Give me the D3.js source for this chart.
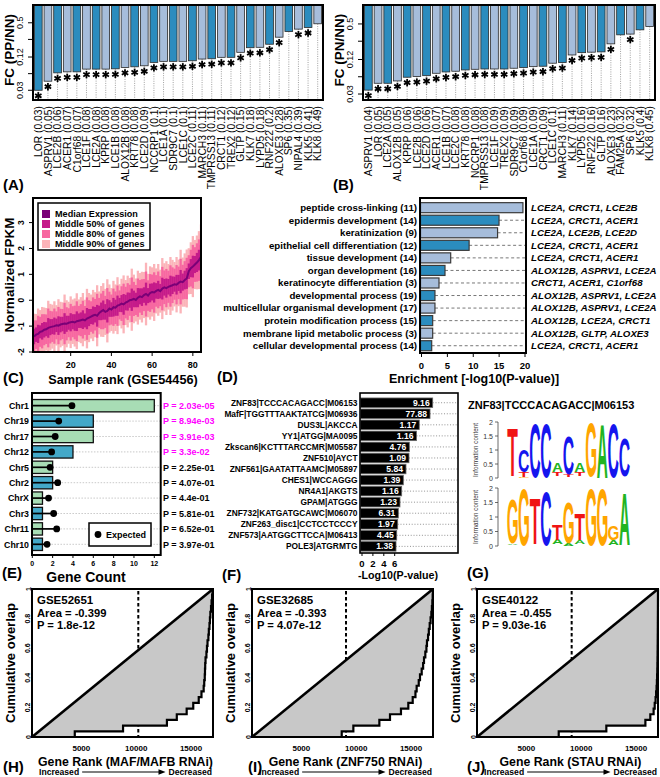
<!DOCTYPE html>
<html><head><meta charset="utf-8">
<script src="https://cdn.jsdelivr.net/npm/d3@7"></script>
<style>body{margin:0;background:#fff}svg{display:block}text{font-family:"Liberation Sans",Arial,Helvetica,sans-serif}</style>
</head><body><svg id="c" width="660" height="777"></svg>
<script>
// ---------------- DATA ----------------
const genesA=["LOR","ASPRV1","LCE2B","ACER1","C1orf68","LCE1F","LCE2A","KPRP","LCE1B","ALOX12B","KRT78","LCE2D","NCCRP1","LCE1A","SDR9C7","LCE1C","LCE2C","MARCH3","TMPRSS13","CRCT1","TREX2","GLTP","KLK7","LYPD5","RNF222","ALOXE3","SP6","NIPAL4","KLK5","KLK8"];
const fcA=[0.030,0.0438,0.062,0.0647,0.0647,0.0725,0.0725,0.0725,0.0734,0.0778,0.0798,0.0833,0.096,0.1002,0.1002,0.1002,0.1027,0.1103,0.1117,0.1185,0.1185,0.146,0.177,0.180,0.2045,0.2745,0.347,0.384,0.411,0.48];
const shownA=["0.03","0.05","0.06","0.07","0.07","0.08","0.08","0.08","0.08","0.08","0.08","0.09","0.1","0.1","0.1","0.1","0.11","0.11","0.11","0.12","0.12","0.15","0.18","0.18","0.2","0.28","0.35","0.39","0.41","0.49"];
const sigA=[1,1,1,1,1,1,1,1,1,1,1,1,1,1,1,1,1,1,1,1,1,1,1,1,1,1,0,1,1,0];
const genesB=["ASPRV1","LOR","LCE2A","ALOX12B","KPRP","LCE2B","LCE2D","ACER1","LCE1B","LCE2C","KRT78","NCCRP1","TMPRSS13","LCE1F","TREX2","SDR9C7","C1orf68","LCE1A","CRCT1","LCE1C","MARCH3","KLK7","LYPD5","RNF222","GLTP","ALOXE3","FAM25A","SP6","KLK5","KLK8"];
const fcB=[0.0351,0.0462,0.0462,0.0507,0.0589,0.0604,0.0627,0.069,0.0728,0.0749,0.0789,0.081,0.082,0.082,0.082,0.0845,0.0866,0.0901,0.0916,0.1034,0.106,0.144,0.158,0.161,0.163,0.225,0.323,0.333,0.395,0.451];
const shownB=["0.04","0.05","0.05","0.05","0.06","0.06","0.06","0.07","0.07","0.08","0.08","0.08","0.08","0.09","0.09","0.09","0.09","0.09","0.09","0.1","0.11","0.14","0.16","0.16","0.16","0.23","0.32","0.32","0.4","0.45"];
const sigB=[1,1,1,1,1,1,1,1,1,1,1,1,1,1,1,1,1,1,1,1,1,1,1,1,1,1,0,1,0,0];
const fcTicks=[0.03,0.06,0.12,0.25,0.5];
const fcTickLabels=["0.03","","0.12","","0.5"];

// Panel C: per-sample expression summary (sample ranks 2..84)
const medianC=[-1.40,-1.33,-1.30,-1.22,-1.20,-1.14,-1.12,-1.07,-1.04,-1.02,
-1.00,-0.97,-0.98,-0.94,-0.92,-0.90,-0.91,-0.87,-0.85,-0.83,
-0.86,-0.81,-0.79,-0.77,-0.75,-0.78,-0.71,-0.67,-0.63,-0.59,
-0.56,-0.60,-0.49,-0.43,-0.38,-0.45,-0.41,-0.32,-0.36,-0.27,
-0.29,-0.21,-0.18,-0.13,-0.16,-0.09,-0.05,0.00,0.02,0.05,
0.01,0.10,0.15,0.12,0.20,0.24,0.18,0.28,0.32,0.30,
0.36,0.40,0.35,0.45,0.50,0.47,0.52,0.55,0.58,0.62,
0.60,0.67,0.72,0.70,0.78,0.84,1.12,1.24,1.30,1.38,
1.46,1.55,1.68];
const w50C=[.30,.28,.35,.25,.32,.30,.27,.38,.31,.29,.33,.26,.36,.30,.28,.40,.31,.27,.35,.29,.32,.38,.28,.30,.36,.27,.41,.33,.29,.35,.30,.42,.28,.34,.37,.30,.45,.32,.28,.36,.31,.39,.27,.33,.40,.30,.35,.29,.43,.32,.28,.37,.31,.34,.30,.44,.29,.36,.33,.39,.30,.35,.28,.42,.32,.37,.30,.40,.34,.29,.38,.31,.45,.33,.36,.40,.30,.35,.42,.33,.37,.40,.45];
const w80C=[.62,.55,.70,.58,.66,.60,.57,.75,.63,.59,.68,.54,.72,.61,.58,.80,.64,.56,.71,.60,.65,.77,.57,.62,.73,.56,.82,.67,.59,.70,.61,.85,.58,.69,.74,.62,.88,.65,.58,.72,.63,.78,.56,.67,.80,.61,.71,.60,.86,.66,.58,.74,.63,.69,.62,.87,.59,.73,.67,.78,.61,.71,.58,.84,.65,.74,.62,.80,.69,.60,.76,.63,.88,.67,.73,.80,.62,.71,.84,.67,.74,.80,.90];
const w90C=[.88,.80,.98,.84,.94,.86,.82,1.05,.90,.85,.96,.78,1.02,.88,.84,1.12,.91,.81,1.00,.86,.93,1.08,.82,.89,1.03,.80,1.15,.95,.85,.99,.87,1.18,.83,.98,1.04,.89,1.22,.93,.83,1.02,.90,1.10,.80,.96,1.12,.87,1.00,.86,1.20,.94,.83,1.04,.90,.98,.89,1.21,.84,1.03,.95,1.10,.87,1.00,.83,1.18,.93,1.04,.88,1.12,.98,.86,1.07,.90,1.23,.95,1.03,1.12,.89,1.00,1.18,.95,1.04,1.12,1.25];
const legendC=["Median Expression","Middle 50% of genes","Middle 80% of genes","Middle 90% of genes"];
const ticksCx=[20,40,60,80], ticksCy=[-2,-1,0,1,2,3];

// Panel D
const goTerms=["peptide cross-linking (11)","epidermis development (14)","keratinization (9)","epithelial cell differentiation (12)","tissue development (14)","organ development (16)","keratinocyte differentiation (3)","developmental process (19)","multicellular organismal development (17)","protein modification process (15)","membrane lipid metabolic process (3)","cellular developmental process (14)"];
const goEnrich=[19.6,14.98,14.7,9.2,5.64,4.54,3.38,2.6,2.6,2.16,2.16,1.97];
const goGenes=["LCE2A, CRCT1, LCE2B","LCE2A, CRCT1, ACER1","LCE2A, LCE2B, LCE2D","LCE2A, CRCT1, ACER1","LCE2A, CRCT1, ACER1","ALOX12B, ASPRV1, LCE2A","CRCT1, ACER1, C1orf68","ALOX12B, ASPRV1, LCE2A","ALOX12B, ASPRV1, LCE2A","ALOX12B, LCE2A, CRCT1","ALOX12B, GLTP, ALOXE3","LCE2A, CRCT1, ACER1"];
const ticksD=[0,5,10,15,20];

// Panel E
const chrs=["Chr1","Chr19","Chr17","Chr12","Chr5","Chr2","ChrX","Chr3","Chr11","Chr10"];
const chrCount=[12,6,6,4,2,2,1,1,1,1];
const chrExpected=[3.9,2.6,2.25,1.9,1.75,2.5,1.6,2.1,2.4,1.45];
const chrP=["2.03e-05","8.94e-03","3.91e-03","3.3e-02","2.25e-01","4.07e-01","4.4e-01","5.81e-01","6.52e-01","3.97e-01"];
const chrSig=[1,1,1,1,0,0,0,0,0,0];
const ticksE=[0,2,4,6,8,10,12];

// Panel F
const motifs=["ZNF83|TCCCACAGACC|M06153","MafF|TGGTTTAAKTATCG|M06936","DUS3L|AKCCA","YY1|ATGG|MA0095","Zkscan6|KCTTTARCCMR|M05587","ZNF510|AYCT","ZNF561|GAATATTAAMC|M05897","CHES1|WCCAGGG","NR4A1|AKGTS","GPAM|ATGGG","ZNF732|KATGATGCAWC|M06070","ZNF263_disc1|CCTCCTCCCY","ZNF573|AATGGCTTCCA|M06413","POLE3|ATGRMTG"];
const motifEnrich=[12.97,12.48,10.5,10.0,8.68,8.62,8.07,7.58,7.28,6.97,6.66,6.55,6.37,6.24];
const motifFold=["9.16","77.88","1.17","1.16","4.76","1.09","5.84","1.39","1.16","1.23","6.31","1.97","4.45","1.38"];
const ticksF=[0,2,4,6];

// Panel G: sequence logos (stacks bottom->top: [base, bits])
const logoTitle="ZNF83|TCCCACAGACC|M06153";
const logoFwd=[[["G",0.03],["C",0.03],["T",1.70]],[["G",0.05],["T",0.17],["C",0.78]],[["C",1.94]],[["C",1.94]],[["G",0.04],["C",0.04],["T",0.14],["A",0.33]],[["G",0.03],["T",0.08],["C",1.36]],[["G",0.04],["C",0.04],["T",0.12],["A",0.30]],[["T",0.03],["G",1.92]],[["A",1.88]],[["C",1.94]],[["A",0.03],["G",0.04],["C",1.34]]];
const logoRev=[[["C",0.04],["A",0.05],["G",1.56]],[["G",1.94]],[["C",0.03],["A",0.04],["T",1.55]],[["C",1.88]],[["C",0.03],["G",0.03],["A",0.16],["T",0.52]],[["A",0.10],["G",1.40]],[["C",0.03],["G",0.03],["A",0.15],["T",0.90]],[["G",1.96]],[["G",1.96]],[["C",0.03],["A",0.17],["G",0.48]],[["G",0.03],["A",1.77]]];
const logoTicks=[0,0.5,1,1.5,2];

// Panels H, I, J: ranks of the gene set in each knock-down ranking
const ranksH=[4400,8800,12800,13700,14600,15200,15700,15950,16150,16200,16250,16270,16290,16320,16400,16450,16500,16580,16620,16680,16720,16760,16820,16870,16920,16960];
const ranksI=[8680,9740,12110,13080,14080,14750,15150,15400,15510,15700,15815,15970,16100,16180,16300,16400,16450,16550,16620,16700,16780,16850,16900,16940,16970,16990];
const ranksJ=[7950,12290,15850,16300,16600,16700,16780,16830,16870,16900,16920,16935,16945,16955,16962,16968,16973,16977,16981,16984,16987,16990,16993,16995,16997,16999];
const gseIds=["GSE52651","GSE32685","GSE40122"];
const gseArea=["-0.399","-0.393","-0.455"];
const gseP=["1.8e-12","4.07e-12","9.03e-16"];
const gseXlab=["Gene Rank (MAF/MAFB RNAi)","Gene Rank (ZNF750 RNAi)","Gene Rank (STAU RNAi)"];
const gseDash=[10190,9070,9130];
const ticksRankX=[5000,10000,15000];
const ticksOverlap=[0,0.2,0.4,0.6,0.8,1];

// ---------------- DRAWING ----------------
const svg=d3.select("#c");
const DARK="#2b8cbe", LIGHT="#a6bddb", GREEN="#a8ddb5", TEAL="#43a8c8";
const NUC={A:"#22b422",C:"#1515ee",G:"#ffa500",T:"#f01414"};
function txt(x,y,s,o={}){
  const t=svg.append("text").attr("x",x).attr("y",y).text(s)
    .attr("font-size",o.size||10).attr("font-weight",o.weight||"bold")
    .attr("text-anchor",o.anchor||"start").attr("fill",o.fill||"#000");
  if(o.rot) t.attr("transform",`rotate(${o.rot},${x},${y})`);
  if(o.style) t.attr("font-style",o.style);
  return t;
}
function box(x0,y0,x1,y1,w){svg.append("rect").attr("x",x0).attr("y",y0).attr("width",x1-x0).attr("height",y1-y0).attr("fill","none").attr("stroke","#000").attr("stroke-width",w||2);}

// ---- A & B ----
function fcPanel(c){
  const g=svg.append("g");
  const x=d3.scaleBand().domain(d3.range(c.genes.length)).range([c.x0,c.x1]).paddingInner(0.2).paddingOuter(0.15);
  const y=d3.scaleLog().domain(c.dom).range([c.y1,c.y0]);
  const cx=i=>x(i)+x.bandwidth()/2;
  g.selectAll(null).data(c.vals).join("line").attr("x1",(d,i)=>cx(i)).attr("x2",(d,i)=>cx(i))
    .attr("y1",d=>y(d)).attr("y2",c.y1).attr("stroke","#888").attr("stroke-width",0.8).attr("stroke-dasharray","1,1.3");
  g.selectAll(null).data(c.vals).join("rect").attr("x",(d,i)=>x(i)).attr("width",x.bandwidth())
    .attr("y",c.y0).attr("height",d=>y(d)-c.y0).attr("fill",(d,i)=>i%2?LIGHT:DARK).attr("stroke","#2a2a2a").attr("stroke-width",0.8);
  c.vals.forEach((d,i)=>{ if(!c.sig[i]) return; const ax=cx(i), ay=y(d)+5.5;
    [90,30,150].forEach(a=>{const r=a*Math.PI/180;
      g.append("line").attr("x1",ax-3.7*Math.cos(r)).attr("y1",ay-3.7*Math.sin(r)).attr("x2",ax+3.7*Math.cos(r)).attr("y2",ay+3.7*Math.sin(r)).attr("stroke","#000").attr("stroke-width",1.8);});
  });
  c.genes.forEach((gn,i)=>txt(cx(i)+3.7,c.y1+6,`${gn} (${c.shown[i]})`,{size:10.3,weight:"normal",anchor:"end",rot:-90}));
  box(c.x0,c.y0,c.x1,c.y1,2);
  fcTicks.forEach((v,k)=>{
    g.append("line").attr("x1",c.x0-5).attr("x2",c.x0).attr("y1",y(v)).attr("y2",y(v)).attr("stroke","#000");
    if(fcTickLabels[k]) txt(c.x0-10,y(v),fcTickLabels[k],{size:9,weight:"normal",anchor:"middle",rot:-90});
  });
  txt(c.x0-19,50,c.ylab,{size:13.5,anchor:"middle",rot:-90});
}
fcPanel({genes:genesA,vals:fcA,shown:shownA,sig:sigA,x0:33,x1:323,y0:5,y1:100,dom:[0.02,1.05],ylab:"FC (PP/NN)"});
fcPanel({genes:genesB,vals:fcB,shown:shownB,sig:sigB,x0:363,x1:655,y0:5,y1:100,dom:[0.0236,1.07],ylab:"FC (PN/NN)"});
txt(3,190,"(A)",{size:15});
txt(333,190,"(B)",{size:15});

// ---- C ----
const rankC=d3.range(2,2+medianC.length);
const xC=d3.scaleLinear().domain([1.5,84]).range([33,201]);
const yC=d3.scaleLinear().domain([-2,3.95]).range([352,198]);
svg.append("defs").append("clipPath").attr("id","clipC").append("rect").attr("x",33).attr("y",198).attr("width",168).attr("height",154);
const gC=svg.append("g").attr("clip-path","url(#clipC)");
[[w90C,"#fbb4b9"],[w80C,"#f768a1"],[w50C,"#c51b8a"]].forEach(([w,col])=>{
  gC.selectAll(null).data(medianC).join("rect").attr("x",(d,i)=>xC(rankC[i])-1.15).attr("width",2.3)
    .attr("y",(d,i)=>yC(d+w[i])).attr("height",(d,i)=>yC(d-w[i])-yC(d+w[i])).attr("fill",col);
});
gC.append("path").datum(medianC).attr("d",d3.line().x((d,i)=>xC(rankC[i])).y(d=>yC(d)))
  .attr("fill","none").attr("stroke","#7a0177").attr("stroke-width",2);
box(33,198,201,352,2);
ticksCx.forEach(v=>{svg.append("line").attr("x1",xC(v)).attr("x2",xC(v)).attr("y1",352).attr("y2",356).attr("stroke","#000");
  txt(xC(v),368,String(v),{size:9,anchor:"middle"});});
ticksCy.forEach(v=>{svg.append("line").attr("x1",29).attr("x2",33).attr("y1",yC(v)).attr("y2",yC(v)).attr("stroke","#000");
  txt(24,yC(v),String(v),{size:8.5,anchor:"middle",rot:-90});});
svg.append("rect").attr("x",38).attr("y",203).attr("width",112).attr("height",47).attr("fill","#fff").attr("stroke","#000").attr("stroke-width",1.5);
["#7a0177","#c51b8a","#f768a1","#fbb4b9"].forEach((col,k)=>{
  const cy=214+k*10;
  svg.append("rect").attr("x",42).attr("y",cy-4).attr("width",8).attr("height",8).attr("fill",col);
  txt(55,cy+3.3,legendC[k],{size:9.1});
});
txt(14,275,"Normalized FPKM",{size:13.5,anchor:"middle",rot:-90});
txt(123,384,"Sample rank (GSE54456)",{size:12.7,anchor:"middle"});
txt(3,383,"(C)",{size:15});

// ---- D ----
const yD=d3.scaleBand().domain(d3.range(goTerms.length)).range([201.4,352]).paddingInner(0.2).paddingOuter(0.1);
const xD=d3.scaleLinear().domain([0,20]).range([421.5,525]);
goEnrich.forEach((v,i)=>{
  const cy=yD(i)+yD.bandwidth()/2;
  if(xD(v)<522) svg.append("line").attr("x1",xD(v)).attr("x2",525).attr("y1",cy).attr("y2",cy).attr("stroke","#777").attr("stroke-width",1).attr("stroke-dasharray","3,2.5");
  svg.append("rect").attr("x",420.5).attr("y",yD(i)).attr("width",xD(v)-420.5).attr("height",yD.bandwidth())
    .attr("fill",i%2?DARK:LIGHT).attr("stroke","#3a3a3a").attr("stroke-width",1.2);
  txt(417,cy+3.4,goTerms[i],{size:9.7,anchor:"end"});
  txt(531,cy+3.4,goGenes[i],{size:9.7,style:"italic"});
});
box(420,198,526,353,2);
ticksD.forEach(v=>{svg.append("line").attr("x1",xD(v)).attr("x2",xD(v)).attr("y1",353).attr("y2",357).attr("stroke","#000");
  txt(xD(v),369,String(v),{size:9.5,anchor:"middle"});});
txt(474,383,"Enrichment [-log10(P-value)]",{size:12.5,anchor:"middle"});
txt(217,382,"(D)",{size:15});

// ---- E ----
const yE=d3.scaleBand().domain(d3.range(chrs.length)).range([398,552]).paddingInner(0.2).paddingOuter(0.1);
const xE=d3.scaleLinear().domain([0,12.6]).range([32.3,160.4]);
chrCount.forEach((v,i)=>{
  const cy=yE(i)+yE.bandwidth()/2;
  svg.append("line").attr("x1",xE(v)).attr("x2",162).attr("y1",cy).attr("y2",cy).attr("stroke","#bbb").attr("stroke-width",0.8).attr("stroke-dasharray","1.5,1.5");
  svg.append("rect").attr("x",xE(0)).attr("y",yE(i)).attr("width",xE(v)-xE(0)).attr("height",yE.bandwidth())
    .attr("fill",i%2?TEAL:GREEN).attr("stroke","#111").attr("stroke-width",1.3);
  svg.append("line").attr("x1",xE(0)).attr("x2",xE(chrExpected[i])).attr("y1",cy).attr("y2",cy).attr("stroke","#000").attr("stroke-width",1.7);
  svg.append("circle").attr("cx",xE(chrExpected[i])).attr("cy",cy).attr("r",3.4).attr("fill","#000");
  txt(29,cy+3.2,chrs[i],{size:8.8,anchor:"end"});
  txt(163,cy+3.2,"P = "+chrP[i],{size:9,fill:chrSig[i]?"#ff00ff":"#000"});
});
box(32,393,160.7,555,2);
svg.append("rect").attr("x",89).attr("y",523).attr("width",62).attr("height",23).attr("fill","#fff").attr("stroke","#000").attr("stroke-width",1.5);
svg.append("circle").attr("cx",98).attr("cy",534.5).attr("r",3.4).attr("fill","#000");
txt(106,538,"Expected",{size:9});
ticksE.forEach(v=>{svg.append("line").attr("x1",xE(v)).attr("x2",xE(v)).attr("y1",555).attr("y2",558).attr("stroke","#000");
  txt(xE(v),566,String(v),{size:7,anchor:"middle"});});
txt(86,582,"Gene Count",{size:14,anchor:"middle"});
txt(2,578,"(E)",{size:15});

// ---- F ----
const yF=d3.scaleBand().domain(d3.range(motifs.length)).range([397.2,551.9]).paddingInner(0.14).paddingOuter(0.07);
const xF=d3.scaleLinear().domain([0,14]).range([362,362+14*5.45]);
motifEnrich.forEach((v,i)=>{
  const cy=yF(i)+yF.bandwidth()/2;
  svg.append("line").attr("x1",xF(v)).attr("x2",458).attr("y1",cy).attr("y2",cy).attr("stroke","#777").attr("stroke-width",0.8).attr("stroke-dasharray","1,1.8");
  svg.append("rect").attr("x",360.5).attr("y",yF(i)).attr("width",xF(v)-360.5).attr("height",yF.bandwidth())
    .attr("fill","#000").attr("stroke","#666").attr("stroke-width",0.8);
  txt(xF(v)-3,cy+3.1,motifFold[i],{size:8.6,anchor:"end",fill:"#fff"});
  txt(357.5,cy+3.1,motifs[i],{size:8.4,anchor:"end"});
});
box(360,393,458,553,1.6);
ticksF.forEach(v=>{svg.append("line").attr("x1",xF(v)).attr("x2",xF(v)).attr("y1",553).attr("y2",556).attr("stroke","#000");
  txt(xF(v),567,String(v),{size:9.5,anchor:"middle"});});
txt(398,579,"-Log10(P-value)",{size:10.7,anchor:"middle"});
txt(222,580,"(F)",{size:15});

// ---- G ----
txt(468,409,logoTitle,{size:11});
const cv=document.createElement("canvas").getContext("2d");
cv.font='bold 100px "Liberation Sans"';
function ink(ch){const m=cv.measureText(ch);return {l:m.actualBoundingBoxLeft,r:m.actualBoundingBoxRight,a:m.actualBoundingBoxAscent,d:m.actualBoundingBoxDescent};}
function logo(data,yBase,ppb){
  const x0=507, colW=11.2;
  data.forEach((stack,i)=>{ let cum=0;
    stack.forEach(([ch,h])=>{
      const H=h*ppb, Y=yBase-(cum+h)*ppb; cum+=h;
      if(H<1.2) return;
      const b=ink(ch), W=colW-0.8, X=x0+i*colW+0.4;
      const fs=100*H/(b.a+b.d);           // font size giving ink height H
      const k=fs/100;
      const sx=W/((b.l+b.r)*k);
      svg.append("text").text(ch).attr("font-size",fs).attr("font-weight","bold").attr("fill",NUC[ch])
        .attr("transform",`translate(${X+b.l*k*sx},${Y+b.a*k}) scale(${sx},1)`);
    });
  });
  const ax=498;
  svg.append("line").attr("x1",ax).attr("x2",ax).attr("y1",yBase).attr("y2",yBase-2*ppb).attr("stroke","#444").attr("stroke-width",0.8);
  logoTicks.forEach(v=>{
    svg.append("line").attr("x1",ax-3).attr("x2",ax).attr("y1",yBase-v*ppb).attr("y2",yBase-v*ppb).attr("stroke","#444").attr("stroke-width",0.8);
    txt(ax-5,yBase-v*ppb+2.5,String(v),{size:7,weight:"normal",anchor:"end",fill:"#333"});
  });
  txt(478,yBase-ppb,"Information content",{size:6.3,weight:"normal",anchor:"middle",rot:-90,fill:"#333"});
}
logo(logoFwd,478,28);
logo(logoRev,546,29);
txt(467,578,"(G)",{size:15});

// ---- H, I, J ----
function cumPanel(c,k){
  const y0=589,y1=737;
  const x=d3.scaleLinear().domain([500,17000]).range([c.x0,c.x1]);
  const y=d3.scaleLinear().domain([0,1]).range([y1,y0]);
  const N=c.ranks.length;
  svg.append("line").attr("x1",x(gseDash[k])).attr("x2",x(gseDash[k])).attr("y1",y0+2).attr("y2",y1).attr("stroke","#000").attr("stroke-width",2).attr("stroke-dasharray","3.5,2.5");
  const stair=[[500,0]];
  c.ranks.forEach((r,i)=>{stair.push([r,i/N]);stair.push([r,(i+1)/N]);});
  stair.push([17000,1]);
  const poly=[[500,0],[17000,1]].concat(stair.slice().reverse());
  svg.append("path").attr("d",d3.line().x(d=>x(d[0])).y(d=>y(d[1]))(poly)+"Z").attr("fill","#c8c8c8");
  svg.append("path").attr("d",d3.line().x(d=>x(d[0])).y(d=>y(d[1]))(stair)).attr("fill","none").attr("stroke","#000").attr("stroke-width",2.2).attr("stroke-linejoin","miter");
  svg.append("line").attr("x1",x(500)).attr("y1",y(0)).attr("x2",x(17000)).attr("y2",y(1)).attr("stroke","#000").attr("stroke-width",2.6);
  box(c.x0,y0,c.x1,y1,2);
  ticksOverlap.forEach(v=>txt(c.x0-1.5,y(v),String(v),{size:7,anchor:"middle",rot:-90}));
  ticksRankX.forEach(v=>txt(x(v),751,String(v),{size:8,anchor:"middle"}));
  txt(c.x0-17,663,"Cumulative overlap",{size:13,anchor:"middle",rot:-90});
  txt(c.x0+5,604,gseIds[k],{size:11.5});
  txt(c.x0+5,616.5,"Area = "+gseArea[k],{size:11.2});
  txt(c.x0+5,629,"P = "+gseP[k],{size:11.2});
  txt((c.x0+c.x1)/2+3,765.5,gseXlab[k],{size:12.3,anchor:"middle"});
  const t1=txt(c.x0+7,775,"Increased",{size:8.6});
  const t2=txt(c.x1-1,775,"Decreased",{size:8.6,anchor:"end"});
  const ax1=c.x0+7+t1.node().getComputedTextLength()+3;
  const ax2=c.x1-1-t2.node().getComputedTextLength()-3;
  svg.append("line").attr("x1",ax1).attr("x2",ax2-5).attr("y1",772).attr("y2",772).attr("stroke","#000").attr("stroke-width",1.1);
  svg.append("path").attr("d",`M${ax2},772 L${ax2-7},769.3 L${ax2-7},774.7 Z`).attr("fill","#000");
}
cumPanel({x0:32,x1:213,ranks:ranksH},0);
cumPanel({x0:252,x1:433,ranks:ranksI},1);
cumPanel({x0:477,x1:658,ranks:ranksJ},2);
txt(3,772,"(H)",{size:15});
txt(248,772,"(I)",{size:15});
txt(467,772,"(J)",{size:15});
</script></body></html>
